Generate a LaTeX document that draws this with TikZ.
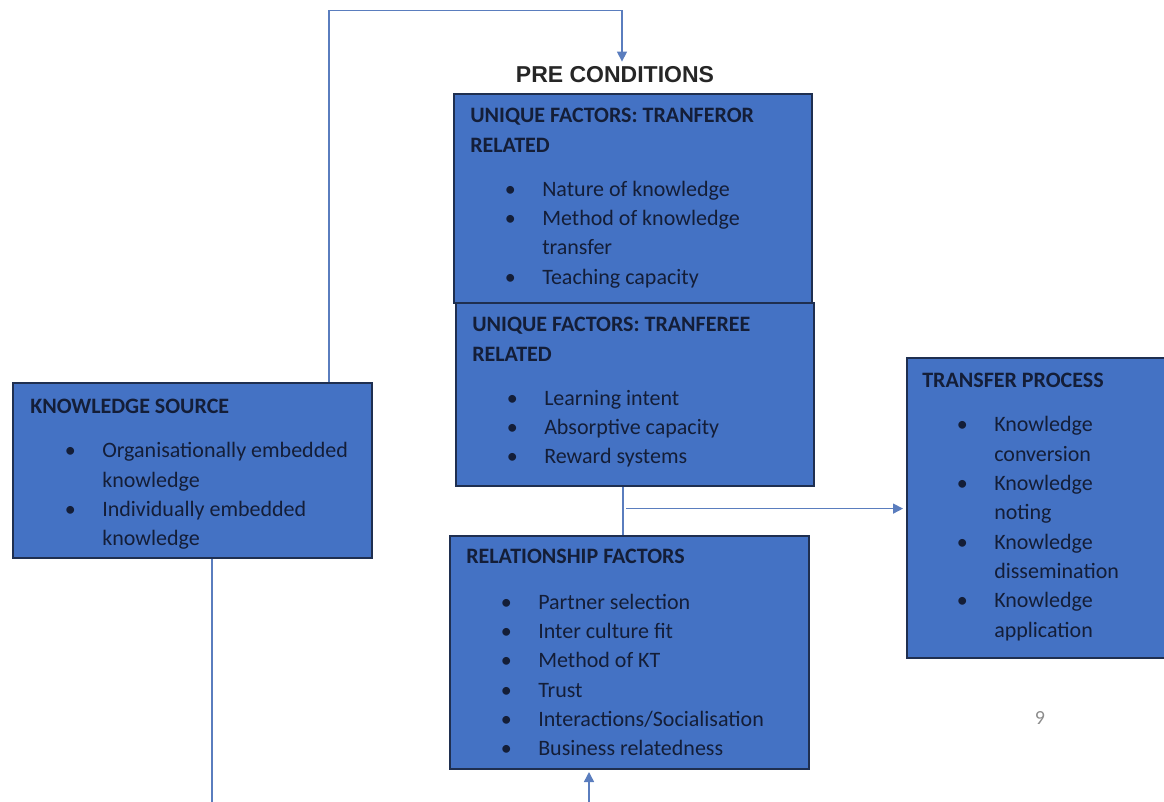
\documentclass[tikz,border=0pt]{standalone}
\usepackage{fontspec}
\setmainfont{Carlito}
\newfontfamily\arialfont{Liberation Sans}
\usetikzlibrary{arrows.meta,positioning}
\definecolor{boxblue}{HTML}{4472C4}
\definecolor{boxedge}{HTML}{1F2F50}
\definecolor{ink}{HTML}{141E38}
\definecolor{wire}{HTML}{5A7DBE}
\newdimen\px \px=0.75pt
\newcommand\kitem{\hspace*{35\px}\makebox[10\px][c]{\textbullet}\hspace*{27\px}}
\newcommand\kcont{\hspace*{72\px}}
\begin{document}
\begin{tikzpicture}[x=0.75pt,y=-0.75pt,
  box/.style 2 args={draw=boxedge,line width=1.5pt,fill=boxblue,anchor=north west,
    inner sep=0pt,minimum width=#1*0.75pt,minimum height=#2*0.75pt},
  txt/.style={anchor=north west,inner sep=0pt,align=left,text=ink,
    font=\fontsize{16.5}{22}\selectfont},
  conn/.style={draw=wire,line width=1.1pt},
  tip/.style={-{Triangle[length=7.5pt,width=7.5pt]}}]
\useasboundingbox (0,0) rectangle (1164,802);
% boxes
\node[box={358}{209}] (tfr) at (453,93) {};
\node[box={358}{183}] (tfe) at (455,302) {};
\node[box={359}{175}] (ks) at (12,382) {};
\node[box={258}{300}] (tp) at (906,357) {};
\node[box={359}{233}] (rel) at (449,535) {};
% box texts
\node[txt] (tfr-t) at (470,108) {\textbf{UNIQUE FACTORS: TRANFEROR}\\
  \textbf{RELATED}\\[11pt]
  \kitem Nature of knowledge\\ \kitem Method of knowledge\\ \kcont transfer\\
  \kitem Teaching capacity};
\node[txt] (tfe-t) at (472,317) {\textbf{UNIQUE FACTORS: TRANFEREE}\\
  \textbf{RELATED}\\[11pt]
  \kitem Learning intent\\ \kitem Absorptive capacity\\ \kitem Reward systems};
\node[txt] (ks-t) at (30,399) {\textbf{KNOWLEDGE SOURCE}\\[11pt]
  \kitem Organisationally embedded\\ \kcont knowledge\\
  \kitem Individually embedded\\ \kcont knowledge};
\node[txt] (tp-t) at (922,373) {\textbf{TRANSFER PROCESS}\\[11pt]
  \kitem Knowledge\\ \kcont conversion\\ \kitem Knowledge\\ \kcont noting\\
  \kitem Knowledge\\ \kcont dissemination\\ \kitem Knowledge\\ \kcont application};
\node[txt] (rel-t) at (466,549) {\textbf{RELATIONSHIP FACTORS}\\[12pt]
  \kitem Partner selection\\ \kitem Inter culture fit\\ \kitem Method of KT\\
  \kitem Trust\\ \kitem Interactions/Socialisation\\ \kitem Business relatedness};
\node[inner sep=0pt,text=black!85,font=\arialfont\bfseries\fontsize{17.25}{20}\selectfont]
  (pre) at (615,75) {PRE CONDITIONS};
\node[inner sep=0pt,text=black!45,font=\fontsize{15}{18}\selectfont] (pg) at (1040,718) {9};
% connectors
\coordinate (low) at (400,810);
\draw[conn,tip] ([xshift=136.5\px]ks.north) |- ([xshift=7\px,yshift=56\px]pre.north)
  -- ([xshift=7\px,yshift=5\px]pre.north);
\draw[conn] ([xshift=-12\px]tfe.south) -- ([xshift=-12\px]tfe.south |- rel.north)
  coordinate[pos=0.45] (jn);
\draw[conn,tip] ([xshift=3\px]jn) -- ([xshift=-3\px]jn -| tp.west);
\draw[conn,tip] ([xshift=19.5\px]ks.south) |- (low) -| ([xshift=-40.5\px,yshift=-2\px]rel.south);
\end{tikzpicture}
\end{document}
